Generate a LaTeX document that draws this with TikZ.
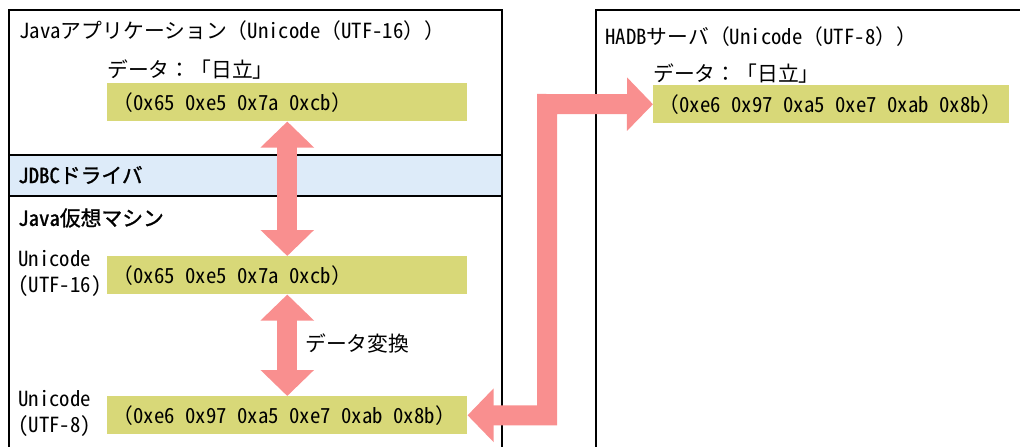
\documentclass[tikz,border=0pt]{standalone}
\usepackage{fontspec}
\setmainfont{Noto Sans CJK JP}
\newfontfamily\hwfont{Noto Sans CJK JP}[RawFeature={+hwid}]
\newfontfamily\medfont{Noto Sans CJK JP}[FakeBold=1.3]
\newfontfamily\medhwfont{Noto Sans CJK JP}[RawFeature={+hwid},FakeBold=1.3]
\usetikzlibrary{arrows.meta}
\definecolor{ybox}{HTML}{D8D878}
\definecolor{pinkarrow}{HTML}{F98F8F}
\definecolor{jdbcblue}{HTML}{DDEBF9}
\newcommand{\figfont}{\fontsize{15.6pt}{19.5pt}\selectfont}
\newcommand{\hh}[1]{{\hwfont #1}}
\newcommand{\hb}[1]{{\medhwfont #1}}
\newcommand{\hs}{\hspace{0.5em}}
\tikzset{
  lbl/.style={inner sep=0pt, anchor=west, font=\figfont},
  boldlbl/.style={lbl, font=\figfont\medfont},
  ydata/.style={fill=ybox, draw=none, anchor=north west, minimum width=270pt,
    minimum height=28.5pt, text width=262pt, inner xsep=4pt, inner ysep=0pt,
    align=left, font=\figfont},
  ydatawide/.style={ydata, minimum width=267pt, text width=259pt},
  framebox/.style={draw=black, line width=0.9pt},
  bigarrow/.style={draw=pinkarrow, line width=15pt, line join=miter,
    {Triangle[length=19.5pt,width=39pt]}-{Triangle[length=19.5pt,width=39pt]}},
}
\begin{document}
\begin{tikzpicture}[x=0.75pt,y=-0.75pt]
\useasboundingbox (0,0) rectangle (1020,446);
% JDBC band
\fill[jdbcblue] (9,155) rectangle (502,196);
% left frame
\draw[framebox] (9,450) -- (9,10) -- (502,10) -- (502,450);
\draw[framebox] (9,155) -- (502,155);
\draw[framebox] (9,196) -- (502,196);
% right frame
\draw[framebox] (596,450) -- (596,10) -- (1025,10);

% texts left
\node[lbl] (title1) at (19,31) {\hh{Java}アプリケーション（\hh{Unicode}（\hh{UTF-16}））};
\node[lbl] (dlabel1) at (107,70) {データ：「日立」};
\node[ydata] (y1) at (107,83) {（\hh{0x65\hs 0xe5\hs 0x7a\hs 0xcb}）};
\node[boldlbl] (jdbc) at (18,175) {\hb{JDBC}ドライバ};
\node[boldlbl] (jvm) at (18,218) {\hb{Java}仮想マシン};
\node[lbl, align=left, anchor=north west] (u16) at (18,250) {\hh{Unicode}\\\hh{(UTF-16)}};
\node[ydata] (y2) at (107,256) {（\hh{0x65\hs 0xe5\hs 0x7a\hs 0xcb}）};
\node[lbl] (conv) at (305,343) {データ変換};
\node[lbl, align=left, anchor=north west] (u8) at (18,390) {\hh{Unicode}\\\hh{(UTF-8)}};
\node[ydata] (y3) at (107,396) {（\hh{0xe6\hs 0x97\hs 0xa5\hs 0xe7\hs 0xab\hs 0x8b}）};

% texts right
\node[lbl] (title2) at (605,37) {\hh{HADB}サーバ（\hh{Unicode}（\hh{UTF-8}））};
\node[lbl] (dlabel2) at (653,74) {データ：「日立」};
\node[ydatawide] (y4) at (653,85) {（\hh{0xe6\hs 0x97\hs 0xa5\hs 0xe7\hs 0xab\hs 0x8b}）};

% arrows
\draw[bigarrow] (y1.south) -- (y2.north);
\draw[bigarrow] (y2.south) -- (y3.north);
\coordinate (bend) at (547,104);
\draw[bigarrow] (y3.east) -| (bend) -- (y4.west);
\end{tikzpicture}
\end{document}
